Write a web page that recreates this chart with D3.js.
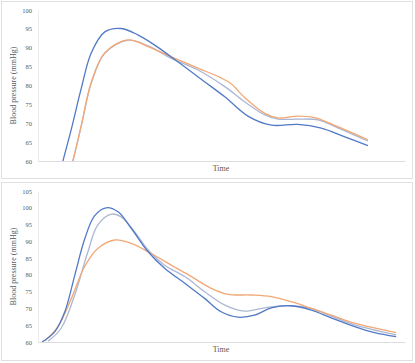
<!DOCTYPE html>
<html><head><meta charset="utf-8">
<script src="https://cdn.jsdelivr.net/npm/d3@7"></script>
<style>body{margin:0;background:#fff}svg{display:block}</style>
</head><body>
<script>
// Time axis (arbitrary units, no tick labels shown)
const timeDomain = [0, 100];
const topTicks = [60, 65, 70, 75, 80, 85, 90, 95, 100];
const bottomTicks = [60, 65, 70, 75, 80, 85, 90, 95, 100, 105];

// Top panel series: [time, mmHg] (first points lie below the axis minimum and are clipped)
const topBlue = [[5.0,53.0],[6.8,60],[9.1,68.5],[11.8,79.3],[14.5,88.6],[18.2,94.2],[22.7,95.1],[27.2,93.4],[31.8,90.7],[38.1,86.3],[45.4,81.0],[50.9,77.0],[57.2,71.9],[63.6,69.5],[70.8,69.7],[77.2,68.7],[83.6,66.4],[89.9,64.1]];
const topGray = [[7.5,53.0],[9.5,60],[11.8,69.3],[14.5,80.6],[18.2,88.5],[24.5,92.0],[30.0,90.5],[36.3,87.2],[43.6,84.1],[50.9,79.7],[56.3,75.7],[61.8,72.2],[65.4,71.1],[70.8,71.1],[76.3,70.9],[81.7,68.8],[89.9,65.3]];
const topOrange = [[7.5,53.0],[9.5,60],[11.8,69.5],[14.5,80.8],[18.2,88.7],[24.5,92.1],[30.0,90.3],[36.3,87.6],[43.6,84.6],[49.9,82.0],[52.7,80.4],[56.3,76.8],[61.8,72.6],[65.4,71.4],[70.8,71.9],[75.4,71.5],[81.7,69.1],[89.9,65.6]];

// Bottom panel series: [time, mmHg]
const botBlue = [[1.1,60.0],[4.6,63.1],[7.3,69.0],[10.0,79.8],[12.7,90.6],[15.4,97.6],[18.6,100.0],[21.8,98.8],[25.4,93.9],[30.0,86.9],[34.5,82.0],[40.0,77.5],[45.4,73.0],[49.9,69.0],[54.5,67.4],[59.0,68.0],[63.6,70.2],[69.0,70.8],[74.5,69.5],[79.9,67.2],[86.3,64.6],[91.7,62.8],[97.6,61.6]];
const botGray = [[2.7,60.2],[6.3,64.1],[10.0,74.0],[13.6,86.9],[16.3,94.9],[20.0,98.1],[22.7,97.3],[26.3,92.9],[30.0,87.4],[34.5,82.9],[40.0,79.5],[45.4,75.0],[50.9,71.0],[56.3,69.2],[61.8,70.2],[68.1,70.8],[74.5,70.0],[79.9,67.7],[86.3,65.1],[97.6,62.1]];
const botOrange = [[1.8,60.3],[5.4,64.5],[9.1,73.0],[12.7,82.5],[16.3,87.9],[20.9,90.4],[25.4,89.4],[30.0,86.9],[36.3,82.9],[41.8,79.5],[47.2,76.0],[51.8,74.2],[58.0,74.0],[63.6,73.5],[69.0,72.0],[74.5,70.0],[79.9,68.0],[86.3,65.6],[97.6,62.8]];

const colors = {blue:"#5279c6", gray:"#abb7d3", orange:"#f2a875"};

const W = 415, H = 363;
const svg = d3.select("body").append("svg").attr("width", W).attr("height", H);

function panel(id, box, plot, yDomain, ticks, series) {
  const g = svg.append("g");
  g.append("rect").attr("x", box.x).attr("y", box.y).attr("width", box.w).attr("height", box.h)
    .attr("fill", "#fff").attr("stroke", "#d9d9d9").attr("stroke-width", 0.8);
  const x = d3.scaleLinear().domain(timeDomain).range([plot.x0, plot.x1]);
  const y = d3.scaleLinear().domain(yDomain).range([plot.y1, plot.y0]);

  // y axis
  const ya = g.append("g").attr("transform", `translate(${plot.x0},0)`)
    .call(d3.axisLeft(y).tickValues(ticks).tickSize(0).tickPadding(6));
  ya.select(".domain").attr("stroke", "#e6e6e6").attr("stroke-width", 0.8);
  ya.selectAll("text").attr("font-family", "Liberation Serif, Times New Roman, serif")
    .attr("font-size", 6.5).attr("fill", "#595959");

  // x axis (no labels)
  const xa = g.append("g").attr("transform", `translate(0,${plot.y1})`)
    .call(d3.axisBottom(x).tickValues([]).tickSize(0).tickSizeOuter(0));
  xa.select(".domain").attr("stroke", "#d9d9d9").attr("stroke-width", 0.9);

  // titles
  g.append("text").attr("transform", `translate(${box.x + 14.5},${(plot.y0 + plot.y1) / 2}) rotate(-90)`)
    .attr("text-anchor", "middle").attr("font-family", "Liberation Serif, Times New Roman, serif")
    .attr("font-size", 8).attr("fill", "#595959").text("Blood pressure (mmHg)");
  g.append("text").attr("x", 221).attr("y", plot.y1 + 9.5)
    .attr("text-anchor", "middle").attr("font-family", "Liberation Serif, Times New Roman, serif")
    .attr("font-size", 8).attr("fill", "#595959").text("Time");

  g.append("clipPath").attr("id", id).append("rect")
    .attr("x", plot.x0).attr("y", plot.y0 - 5).attr("width", plot.x1 - plot.x0).attr("height", plot.y1 - plot.y0 + 5);

  const line = d3.line().x(d => x(d[0])).y(d => y(d[1])).curve(d3.curveCatmullRom.alpha(0.5));
  series.forEach(s => {
    g.append("path").datum(s.data).attr("clip-path", `url(#${id})`)
      .attr("fill", "none").attr("stroke", s.color).attr("stroke-width", 1.3)
      .attr("stroke-linejoin", "round").attr("d", line);
  });
}

panel("clipTop", {x: 1.5, y: 1.5, w: 411, h: 177}, {x0: 38, x1: 405, y0: 10, y1: 161},
  [60, 100], topTicks,
  [{data: topGray, color: colors.gray}, {data: topOrange, color: colors.orange}, {data: topBlue, color: colors.blue}]);

panel("clipBot", {x: 1.5, y: 182.5, w: 411, h: 178}, {x0: 38, x1: 405, y0: 191, y1: 342},
  [60, 105], bottomTicks,
  [{data: botGray, color: colors.gray}, {data: botOrange, color: colors.orange}, {data: botBlue, color: colors.blue}]);
</script>
</body></html>
